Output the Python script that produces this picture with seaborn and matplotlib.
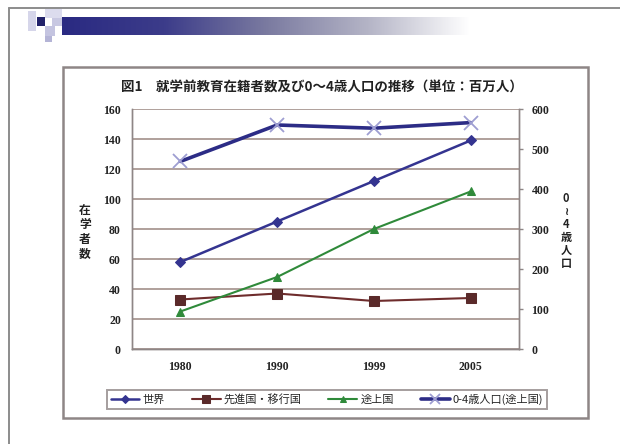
import numpy as np
import pandas as pd
import matplotlib
matplotlib.use("Agg")
import matplotlib.pyplot as plt
from matplotlib.patches import Rectangle
from matplotlib.lines import Line2D
from matplotlib.colors import LinearSegmentedColormap
import seaborn as sns

# ---- data (millions) ----
years = ["1980", "1990", "1999", "2005"]
world = [58, 85, 112, 139]
developed = [33, 37, 32, 34]
developing = [25, 48, 80, 105]
pop_0_4 = [469, 560, 552, 566]

series_names = ["世界", "先進国・移行国", "途上国", "0-4歳人口(途上国)"]
title_text = "図1　就学前教育在籍者数及び0～4歳人口の推移（単位：百万人）"
left_label = "在\n学\n者\n数"
right_label = "0\n≀\n4\n歳\n人\n口"
left_ticks = [0, 20, 40, 60, 80, 100, 120, 140, 160]
right_ticks = [0, 100, 200, 300, 400, 500, 600]

sns.set_style("white")
plt.rcParams["font.family"] = ["Noto Sans CJK JP", "DejaVu Sans"]

W, H = 620, 444
fig = plt.figure(figsize=(W / 100, H / 100), dpi=100)
fig.patch.set_facecolor("white")


def fbox(x0, y0, x1, y1):
    """pixel box (top-left origin) -> figure fraction rect"""
    return [x0 / W, 1 - y1 / H, (x1 - x0) / W, (y1 - y0) / H]


# ---- slide decoration ----
fig.add_artist(Line2D([9 / W, 9 / W], [0, 1 - 8 / H], transform=fig.transFigure,
                      color="#8c8c8c", lw=1.4))
fig.add_artist(Line2D([9 / W, 1], [1 - 8 / H, 1 - 8 / H], transform=fig.transFigure,
                      color="#8c8c8c", lw=1.4))

for (x0, y0, x1, y1, c) in [
    (28, 11, 36, 31, "#d6d6ea"),
    (45, 9, 62, 18, "#dcdcee"),
    (45, 26, 55, 36, "#c4c4e0"),
    (45, 36, 52, 42, "#b4b4d6"),
    (52, 18, 62, 26, "#c8c8e2"),
    (37, 17, 45, 26, "#22226a"),
]:
    fig.add_artist(Rectangle((x0 / W, 1 - y1 / H), (x1 - x0) / W, (y1 - y0) / H,
                             transform=fig.transFigure, color=c, lw=0))

bar_ax = fig.add_axes(fbox(62, 17, 470, 35))
grad_cmap = LinearSegmentedColormap.from_list(
    "hdr", ["#2a2a82", "#3c3c8a", "#7a7aa0", "#b4b4c6", "#ffffff"])
bar_ax.imshow(np.linspace(0, 1, 256)[None, :], aspect="auto", cmap=grad_cmap)
bar_ax.set_axis_off()

# chart frame
fig.add_artist(Rectangle((63 / W, 1 - 418 / H), (588 - 63) / W, (418 - 67) / H,
                         transform=fig.transFigure, fill=False,
                         edgecolor="#8e8686", lw=1.8))

# ---- plot ----
df = pd.DataFrame({
    "year": years,
    series_names[0]: world,
    series_names[1]: developed,
    series_names[2]: developing,
    series_names[3]: pop_0_4,
})

ax = fig.add_axes(fbox(132, 109, 519, 349))
ax2 = ax.twinx()

sns.lineplot(data=df, x="year", y=series_names[0], ax=ax, sort=False,
             color="#343490", lw=1.8, marker="D", markersize=5,
             markeredgecolor="#343490", label=series_names[0])
sns.lineplot(data=df, x="year", y=series_names[1], ax=ax, sort=False,
             color="#6e2c2c", lw=1.5, marker="s", markersize=7,
             markerfacecolor="#5a2a2a", markeredgecolor="#5a2a2a",
             label=series_names[1])
sns.lineplot(data=df, x="year", y=series_names[2], ax=ax, sort=False,
             color="#2f8a3a", lw=1.5, marker="^", markersize=6,
             markeredgecolor="#2f8a3a", label=series_names[2])
sns.lineplot(data=df, x="year", y=series_names[3], ax=ax2, sort=False,
             color="#2c2c86", lw=2.6, marker="x", markersize=10,
             markeredgecolor="#9e9ed2", markeredgewidth=1.3,
             label=series_names[3])

h1, l1 = ax.get_legend_handles_labels()
h2, l2 = ax2.get_legend_handles_labels()
for a in (ax, ax2):
    if a.get_legend() is not None:
        a.get_legend().remove()

ax.set_xlim(-0.5, 3.5)
ax.set_ylim(0, 160)
ax2.set_ylim(0, 600)
ax.set_yticks(left_ticks)
ax2.set_yticks(right_ticks)
ax.set_xlabel("")
ax.set_ylabel("")
ax2.set_ylabel("")

ax.yaxis.grid(True, color="#9a8680", lw=1.1)
ax.xaxis.grid(False)
ax2.grid(False)
ax.set_axisbelow(True)

for a in (ax, ax2):
    for s in a.spines.values():
        s.set_color("#8e8686")
        s.set_linewidth(1.0)
ax.spines["top"].set_visible(False)
ax2.spines["top"].set_visible(False)

num_font = dict(family="Liberation Serif", weight="bold", size=8.5)
ax.tick_params(axis="y", length=0, pad=8, colors="#222222")
ax.tick_params(axis="x", length=0, pad=9, colors="#222222")
ax2.tick_params(axis="y", length=3, width=1, color="#8e8686", pad=6,
                labelcolor="#222222")
for lab in ax.get_yticklabels() + ax.get_xticklabels() + ax2.get_yticklabels():
    lab.set_fontfamily(num_font["family"])
    lab.set_fontweight(num_font["weight"])
    lab.set_fontsize(num_font["size"])

# titles and axis labels
fig.text(322 / W, 1 - 88 / H, title_text, ha="center", va="center",
         fontsize=9.7, fontweight="bold", color="#222222")
fig.text(85 / W, 1 - 232 / H, left_label, ha="center", va="center",
         fontsize=8.5, fontweight="bold", color="#222222", linespacing=1.15)
fig.text(566 / W, 1 - 231 / H, right_label, ha="center", va="center",
         fontsize=8, fontweight="bold", color="#222222", linespacing=1.0,
         family=["Noto Sans CJK JP", "DejaVu Sans"])

leg = fig.legend(h1 + h2, l1 + l2, loc="center", ncol=4,
                 bbox_to_anchor=(327 / W, 1 - 399.5 / H),
                 frameon=True, fancybox=False, edgecolor="#8e8686",
                 handlelength=2.6, columnspacing=2.4, handletextpad=0.3,
                 borderpad=0.35, markerscale=0.75, prop={"size": 8})
leg.get_frame().set_linewidth(1.4)

fig.savefig("out.png", dpi=100, facecolor="white")
